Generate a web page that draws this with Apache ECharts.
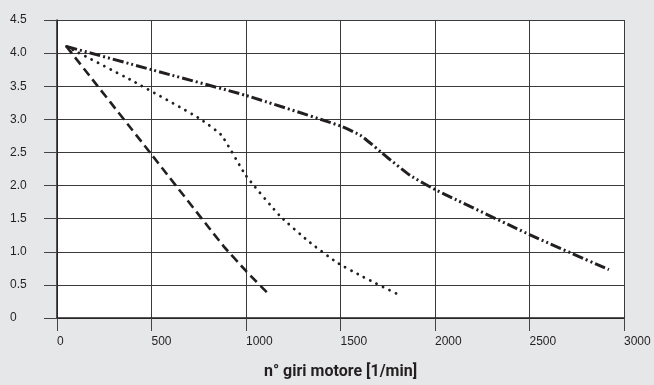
<!DOCTYPE html>
<html>
<head>
<meta charset="utf-8">
<script src="https://cdn.jsdelivr.net/npm/echarts@6/dist/echarts.min.js"></script>
<style>
  html, body { margin: 0; padding: 0; background: #e6e7e8; }
  #chart { width: 654px; height: 385px; }
</style>
</head>
<body>
<div id="chart"></div>
<script>
// Tick labels
const xTicks = ['0', '500', '1000', '1500', '2000', '2500', '3000'];
const yTicks = ['0', '0.5', '1.0', '1.5', '2.0', '2.5', '3.0', '3.5', '4.0', '4.5'];

// Curves: [rpm, value]
const curveDashed = [
  [50, 4.10], [500, 2.47], [880, 1.09], [1000, 0.71], [1120, 0.36]
];
const curveDotted = [
  [50, 4.10], [400, 3.58], [750, 3.02], [870, 2.76], [1000, 2.15],
  [1180, 1.54], [1330, 1.16], [1480, 0.84], [1620, 0.62], [1795, 0.37]
];
const curveDashDot = [
  [50, 4.10], [500, 3.75], [1000, 3.36], [1500, 2.90], [1610, 2.75],
  [1750, 2.42], [1870, 2.15], [2000, 1.94], [2500, 1.26], [2920, 0.73]
];

const axisName = 'n° giri motore [1/min]';
const ink = '#231f20';

const chart = echarts.init(document.getElementById('chart'), null, { renderer: 'canvas' });

const lineSeries = (data, lineStyle) => ({
  type: 'line', data, symbol: 'none', smooth: 0.15,
  lineStyle: Object.assign({ color: ink }, lineStyle)
});

chart.setOption({
  backgroundColor: '#e6e7e8',
  animation: false,
  grid: {
    left: 57, right: 30, top: 20, bottom: 64,
    show: true, backgroundColor: '#ffffff', borderWidth: 0
  },
  xAxis: {
    type: 'value', min: 0, max: 3000, interval: 500,
    name: axisName,
    nameLocation: 'middle',
    nameGap: 46,
    nameTextStyle: {
      fontFamily: 'Roboto, sans-serif',
      fontWeight: 'bold', fontSize: 16, color: ink
    },
    axisLine: { show: true, lineStyle: { color: ink, width: 1.5 } },
    axisTick: { show: true, inside: false, length: 13, lineStyle: { color: '#444', width: 1 } },
    axisLabel: {
      margin: 18, align: 'left', color: ink,
      fontFamily: 'Liberation Sans, sans-serif', fontSize: 12,
      formatter: (v) => xTicks[Math.round(v / 500)]
    },
    splitLine: { show: true, lineStyle: { color: '#3a3a3a', width: 1 } }
  },
  yAxis: {
    type: 'value', min: 0, max: 4.5, interval: 0.5,
    axisLine: { show: true, lineStyle: { color: ink, width: 1.5 } },
    axisTick: { show: true, inside: false, length: 13, lineStyle: { color: '#444', width: 1 } },
    axisLabel: {
      margin: 47, align: 'left', color: ink,
      fontFamily: 'Liberation Sans, sans-serif', fontSize: 12,
      padding: [0, 0, 10, 0],
      formatter: (v) => yTicks[Math.round(v / 0.5)]
    },
    splitLine: { show: true, lineStyle: { color: '#3a3a3a', width: 1 } }
  },
  series: [
    lineSeries(curveDashed, { width: 2.6, type: [9, 5] }),
    lineSeries(curveDotted, { width: 2.8, type: [0.1, 7], cap: 'round' }),
    lineSeries(curveDashDot, { width: 3, type: [11, 3, 2, 3, 2, 3] })
  ]
});
</script>
</body>
</html>
